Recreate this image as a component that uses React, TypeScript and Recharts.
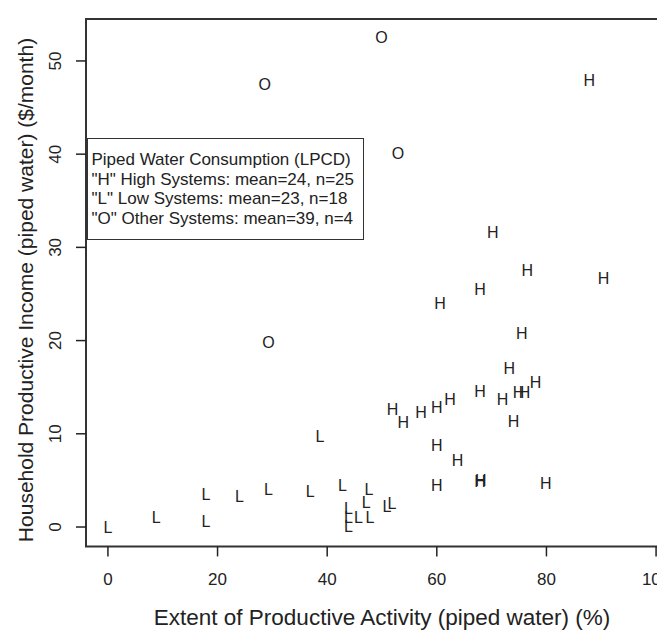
import React from 'react';
import { ScatterChart, Scatter, XAxis, YAxis, ReferenceArea } from 'recharts';

// extent of productive activity (%) vs household productive income ($/month)
const highX = [87.8, 70.2, 76.5, 90.4, 67.9, 60.6, 75.5, 73.2, 78.0, 67.9, 74.9, 76.0, 72.0, 62.4, 60.0, 57.1, 51.9, 53.9, 74.0, 60.0, 63.8, 60.0, 67.9, 68.0, 79.9];
const highY = [47.9, 31.6, 27.6, 26.7, 25.5, 24.0, 20.8, 17.0, 15.5, 14.6, 14.5, 14.5, 13.7, 13.7, 12.8, 12.3, 12.6, 11.2, 11.3, 8.8, 7.2, 4.5, 4.9, 5.0, 4.7];

const lowX = [0, 8.8, 17.9, 17.9, 24.0, 29.3, 36.9, 38.7, 42.8, 47.6, 47.1, 45.7, 47.8, 43.9, 43.9, 43.9, 50.9, 51.8];
const lowY = [0.0, 1.1, 0.6, 3.5, 3.3, 4.1, 3.8, 9.7, 4.5, 4.0, 2.7, 1.1, 1.0, 2.0, 1.0, 0.1, 2.2, 2.6];

const otherX = [28.6, 49.9, 52.9, 29.3];
const otherY = [47.5, 52.5, 40.1, 19.8];

const xTicks = [0, 20, 40, 60, 80, 100];
const yTicks = [0, 10, 20, 30, 40, 50];

const legendLines = [
  'Piped Water Consumption (LPCD)',
  '"H" High Systems: mean=24, n=25',
  '"L" Low Systems: mean=23, n=18',
  '"O" Other Systems: mean=39, n=4',
];

const toPoints = (xs: number[], ys: number[]) => xs.map((x, i) => ({ x, y: ys[i] }));

const INK = '#222';
const FONT = '"Liberation Sans", Arial, sans-serif';

const letterShape = (ch: string) => (p: any) => (
  <text x={p.cx} y={p.cy} dy="0.36em" textAnchor="middle" fontSize={16} fill={INK} fontFamily={FONT}>
    {ch}
  </text>
);

const XTick = ({ x, payload }: any) => (
  <text x={x} y={577} textAnchor="middle" fontSize={17} fill={INK} fontFamily={FONT}>
    {payload.value}
  </text>
);

const YTick = ({ y, payload }: any) => (
  <text x={53.5} y={y} transform={`rotate(-90, 53.5, ${y})`} textAnchor="middle" fontSize={17} fill={INK} fontFamily={FONT}>
    {payload.value}
  </text>
);

const XTitle = () => (
  <text x={374} y={617} textAnchor="middle" fontSize={22.5} fill={INK} fontFamily={FONT}>
    Extent of Productive Activity (piped water) (%)
  </text>
);

const YTitle = () => (
  <text x={25} y={282} transform="rotate(-90, 25, 282)" textAnchor="middle" fontSize={21} fill={INK} fontFamily={FONT}>
    Household Productive Income (piped water) ($/month)
  </text>
);

export default function App() {
  return (
    <div style={{ position: 'relative', width: 657, height: 622, overflow: 'hidden', fontFamily: FONT }}>
      <ScatterChart width={690} height={622} margin={{ top: 11, right: 20, bottom: 0, left: 0 }}>
        <XAxis
          type="number"
          dataKey="x"
          domain={[-4, 104]}
          ticks={xTicks}
          allowDataOverflow
          axisLine={false}
          tickSize={10}
          tickLine={{ stroke: INK, strokeWidth: 1.5 }}
          tick={<XTick />}
          height={83.6}
          label={<XTitle />}
        />
        <YAxis
          type="number"
          dataKey="y"
          domain={[-2.08, 54.5]}
          ticks={yTicks}
          allowDataOverflow
          axisLine={false}
          tickSize={10}
          tickLine={{ stroke: INK, strokeWidth: 1.5 }}
          tick={<YTick />}
          width={78}
          label={<YTitle />}
        />
        <ReferenceArea x1={-4} x2={104} y1={-2.08} y2={54.5} fill="none" stroke="#333" strokeWidth={2} ifOverflow="visible" />
        <Scatter data={toPoints(highX, highY)} shape={letterShape('H')} isAnimationActive={false} />
        <Scatter data={toPoints(lowX, lowY)} shape={letterShape('L')} isAnimationActive={false} />
        <Scatter data={toPoints(otherX, otherY)} shape={letterShape('O')} isAnimationActive={false} />
      </ScatterChart>
      <div
        style={{
          position: 'absolute',
          left: 79,
          top: 129.7,
          width: 277,
          height: 102.3,
          boxSizing: 'border-box',
          border: '1.5px solid #333',
          background: '#fff',
          padding: '11.3px 0 0 3.5px',
          fontSize: 17,
          lineHeight: '19.7px',
          color: INK,
          whiteSpace: 'nowrap',
        }}
      >
        {legendLines.map((l) => (
          <div key={l}>{l}</div>
        ))}
      </div>
    </div>
  );
}
